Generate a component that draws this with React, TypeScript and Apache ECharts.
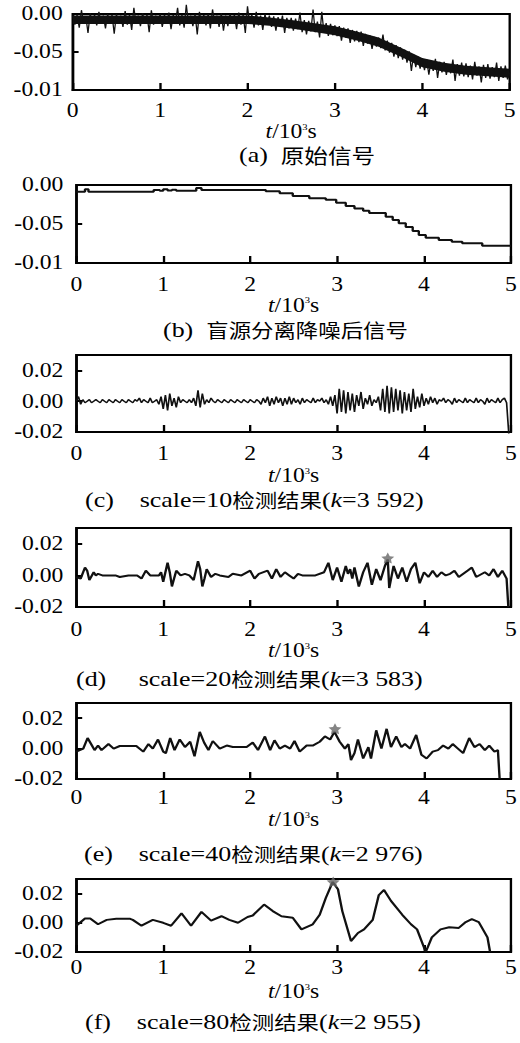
import React, { useEffect, useRef } from "react";
import * as echarts from "echarts";

// The reference figure is horizontally stretched; the chart is drawn narrower and stretched back.
const STRETCH = 1.18;
const CHART_W = 520 / STRETCH;
const CHART_H = 1043;

const FONT_SERIF = "'Liberation Serif', 'Times New Roman', serif";
const FONT_CJK = "'Noto Sans CJK SC', sans-serif";

// ---------- tick labels (values in units of 10^-3) ----------
const xTickValues = [0, 1, 2, 3, 4, 5];
const xTickLabels = ["0", "1", "2", "3", "4", "5"];
const yTicksAB = [-100, -50, 0];
const yLabelsAB = ["-0.01", "-0.05", "0.00"];
const yTicksCF = [-20, 0, 20];
const yLabelsCF = ["-0.02", "0.00", "0.02"];

// ---------- (a) original signal, sampled every 0.025 (10^3 s) ----------
const aStep = 0.025;
const aVals = [
  -2, -14, -1, -18, 5, -12, -3, -25, 1, -13,
  -1, -15, 3, -12, -2, -19, 0, -13, -1, -26,
  0, -12, -2, -17, 4, -14, -1, -21, 8, -13,
  -2, -16, 1, -12, -1, -24, 5, -14, -2, -13,
  0, -17, -1, -13, 2, -20, -1, -12, 8, -15,
  -1, -18, 12, -13, -2, -16, 0, -27, 3, -12,
  -1, -15, 0, -19, 6, -13, -2, -17, 1, -22,
  -2, -16, 0, -12, -1, -20, 2, -14, -1, -25,
  10, -13, -1, -18, 3, -15, -2, -21, 0, -14,
  -2, -17, -3, -22, -4, -16, -2, -25, -5, -19,
  -5, -22, -6, -20, 2, -24, -8, -27, -9, -23,
  6, -24, -10, -31, 3, -25, -12, -29, -13, -28,
  -15, -29, -16, -35, -18, -31, -19, -38, -21, -36,
  -22, -37, -23, -42, -26, -39, -28, -46, -30, -43,
  -31, -45, -27, -48, -35, -51, -38, -56, -41, -58,
  -44, -60, -47, -64, -49, -75, -53, -70, -56, -72,
  -58, -74, -60, -80, -62, -75, -59, -84, -63, -77,
  -63, -80, -66, -78, -60, -88, -66, -81, -64, -82,
  -65, -83, -68, -86, -63, -81, -69, -90, -67, -84,
  -66, -85, -70, -83, -64, -88, -69, -84, -68, -86,
  -77,
];
// dense core of the noisy band in (a): upper / lower edge
const aBandT = [0, 0.25, 0.5, 0.75, 1, 1.25, 1.5, 1.75, 2, 2.25, 2.5, 2.75, 3, 3.25, 3.5, 3.75, 4, 4.25, 4.5, 4.75, 5];
const aBandUpper = [-2, -2, -2, -2, -2, -2, -2, -2, -2, -4.5, -8, -12, -16, -23, -31, -44, -58, -64, -68, -70, -72];
const aBandLower = [-13, -13, -13, -13, -13, -13, -13, -13, -13, -15.5, -19, -23.5, -28, -35, -43, -56, -70, -76, -80, -82, -84];

// ---------- (b) denoised signal (staircase): [t, value] ----------
const bPts = [
  [0, -8.5], [0.1, -5.5], [0.14, -8.5], [0.89, -6.5], [0.96, -7.5], [1.0, -5.5],
  [1.05, -7], [1.1, -6], [1.15, -7.3], [1.38, -4], [1.44, -6.5], [2.18, -8],
  [2.34, -10.5], [2.49, -14], [2.68, -17], [2.87, -19], [2.99, -22.6], [3.1, -27],
  [3.2, -30], [3.3, -33], [3.37, -36], [3.56, -40.6], [3.64, -45], [3.71, -49],
  [3.79, -54], [3.87, -59], [3.94, -64], [4.02, -67.5], [4.17, -70.5], [4.32, -72.6],
  [4.44, -74.8], [4.67, -78], [5.0, -78],
];

// ---------- (c) scale=10, sampled every 0.025 ----------
const cStep = 0.025;
const cVals = [
  0, 3, -2, 1, -1, 0, 1, -1, 0, 1,
  0, -1, 1, 0, -1, 1, 0, -1, 1, 0,
  -1, 1, 0, -1, 1, 0, -1, 1, 0, 2,
  -1, 1, 0, -1, 2, -1, 0, 1, -2, 3,
  -5, 4, -6, 5, -3, 2, -4, 3, -1, 1,
  0, -1, 1, -1, 2, -3, 7, -4, 5, -2,
  1, -1, 2, 0, -1, 1, 0, -1, 1, 0,
  -1, 1, 0, -1, 1, 0, -1, 1, 0, -1,
  1, 0, -1, 1, 0, -2, 2, -1, 3, -3,
  2, -2, 3, -1, 2, -3, 2, -2, 3, -2,
  2, -1, 1, -2, 2, -1, 1, 0, -1, 2,
  -1, 1, 0, 2, -1, 1, -2, 3, -3, 4,
  -8, 8, -7, 7, -8, 6, -6, 5, -7, 4,
  -3, 6, -5, 2, -2, 4, -3, 1, -1, 3,
  -6, 8, -7, 10, -8, 9, -7, 8, -6, 7,
  -8, 6, -6, 5, -7, 8, -5, 3, -4, 5,
  -3, 2, -2, 3, -1, 2, -2, 1, 0, 2,
  -1, 1, 0, -2, 2, -1, 1, 0, -1, 2,
  -1, 1, 0, -1, 2, -1, 1, 0, -2, 2,
  -1, 1, 0, -1, 2, -1, 1, 2, -1, -21,
];

// ---------- (d) scale=20: [t, value] ----------
const dPts = [
  [0, -1], [0.05, -2], [0.1, 5], [0.125, 3], [0.15, -3], [0.2, 2], [0.225, 0], [0.25, 1],
  [0.3, 0], [0.45, 0], [0.5, -1], [0.6, 0], [0.7, 0], [0.75, -2], [0.8, 3], [0.85, 0],
  [0.95, 0], [0.975, 2], [1.0, -4], [1.05, 8], [1.075, 2], [1.1, -7], [1.125, -2], [1.15, 3],
  [1.2, 0], [1.25, 1], [1.3, 0], [1.35, -3], [1.4, 9], [1.425, 4], [1.45, -7], [1.475, -2],
  [1.5, 4], [1.55, -1], [1.6, 1], [1.65, 0], [1.75, -1], [1.8, 1], [1.9, 0], [2.0, 3],
  [2.05, -2], [2.1, 1], [2.2, 3], [2.25, -2], [2.3, 4], [2.35, -1], [2.4, 2], [2.45, 0],
  [2.5, -2], [2.55, 1], [2.6, 0], [2.75, 0], [2.85, 2], [2.9, 8], [2.95, -3], [3.0, 5],
  [3.05, -4], [3.1, 6], [3.125, 1], [3.15, 4], [3.175, -2], [3.2, 5], [3.25, -7], [3.3, 2],
  [3.35, 8], [3.4, -6], [3.45, 4], [3.5, -3], [3.55, 6], [3.583, 10], [3.6, -8], [3.65, 6],
  [3.7, -2], [3.75, 5], [3.8, -4], [3.85, 4], [3.9, 8], [3.95, -5], [4.0, 2], [4.05, -1],
  [4.1, 3], [4.15, -1], [4.2, 2], [4.25, 0], [4.3, 1], [4.35, 3], [4.4, -1], [4.5, 3],
  [4.55, 5], [4.6, -1], [4.7, 2], [4.75, 0], [4.8, 4], [4.85, -1], [4.9, 3], [4.95, -2],
  [4.97, -20],
];

// ---------- (e) scale=40: [t, value] ----------
const ePts = [
  [0, -2], [0.08, 0], [0.13, 7], [0.18, 2], [0.21, -1], [0.25, 2], [0.29, -1], [0.37, 3],
  [0.43, 0], [0.5, 1.7], [0.69, 1.7], [0.77, -2], [0.83, 3], [0.88, 0], [0.94, 6], [1.0, -2],
  [1.03, -3], [1.08, 7], [1.13, -1], [1.19, 6], [1.25, 1], [1.31, 4.5], [1.36, -5], [1.42, 11],
  [1.47, 4], [1.52, -1], [1.57, 5], [1.65, 0], [1.73, 2], [1.8, 1], [1.96, 1], [2.03, 4],
  [2.09, -1], [2.17, 8], [2.23, -1], [2.28, 5.5], [2.34, 0], [2.4, 2], [2.46, 0], [2.51, 5],
  [2.57, -2], [2.65, 2], [2.72, 2], [2.8, 4.5], [2.86, 8], [2.92, 6], [2.97, 11], [3.03, 4.5],
  [3.09, 0], [3.13, 3], [3.16, -7.5], [3.2, -3], [3.24, 6], [3.3, -6.5], [3.36, 1], [3.39, -6.5],
  [3.45, 12], [3.51, 0], [3.57, 13], [3.62, 1], [3.68, 8], [3.74, 1], [3.78, 3], [3.84, 0],
  [3.91, 9], [3.97, -4], [4.03, -6.5], [4.1, -2], [4.16, -1], [4.22, 2], [4.28, 0], [4.33, 3],
  [4.39, 0], [4.45, -3], [4.52, 7], [4.58, 1], [4.64, 3], [4.7, -1], [4.75, 2], [4.81, -2],
  [4.85, -1], [4.87, -20],
];

// ---------- (f) scale=80: [t, value] ----------
const fPts = [
  [0, -2], [0.1, 3], [0.16, 3], [0.25, -1], [0.35, 2], [0.46, 2.7], [0.62, 2.7], [0.65, 2],
  [0.75, -2], [0.88, 2], [1.0, 0], [1.09, -2], [1.21, 6.5], [1.32, -2], [1.44, 7.5], [1.55, 1.5],
  [1.67, 4.5], [1.76, 2], [1.86, 0], [1.97, 4], [2.03, 5], [2.16, 12.5], [2.26, 8], [2.36, 4.5],
  [2.49, 3.5], [2.59, -4.5], [2.72, -1], [2.8, 5.5], [2.87, 17], [2.95, 28], [3.01, 23], [3.06, 8],
  [3.16, -12.5], [3.24, -7], [3.31, -4.5], [3.41, 2], [3.48, 19], [3.54, 22.5], [3.62, 15], [3.75, 5.5],
  [3.85, -1], [3.92, -4.5], [4.02, -20], [4.09, -10], [4.19, -4.5], [4.29, -3], [4.4, -3.5], [4.48, 0.5],
  [4.55, 2.5], [4.63, 0.5], [4.73, -10], [4.76, -20],
];

// ---------- detected points (stars): t, value ----------
const starT = [3.583, 2.976, 2.955];
const starV = [11, 13, 28];

// ---------- captions ----------
const captionTexts = [
  "{n|(a)  }{c|原始信号}",
  "{n|(b)  }{c|盲源分离降噪后信号}",
  "{n|(c)    scale=10}{c|检测结果}{n|(}{i|k}{n|=3 592)}",
  "{n|(d)     scale=20}{c|检测结果}{n|(}{i|k}{n|=3 583)}",
  "{n|(e)    scale=40}{c|检测结果}{n|(}{i|k}{n|=2 976)}",
  "{n|(f)    scale=80}{c|检测结果}{n|(}{i|k}{n|=2 955)}",
];

const px = (x: number) => x / STRETCH;

const layout = [
  { left: 72.7, top: 14, width: 437, height: 76, yMin: -100, yMax: 0, yInt: 50, yt: yTicksAB, yl: yLabelsAB, lm: 11, ng: 28, ylm: 10, capX: 239, capY: 155, cjk: 20 },
  { left: 76.3, top: 185, width: 435.3, height: 78, yMin: -100, yMax: 0, yInt: 50, yt: yTicksAB, yl: yLabelsAB, lm: 11.5, ng: 25, ylm: 13, capX: 163, capY: 330, cjk: 19 },
  { left: 76.3, top: 355, width: 435.3, height: 77, yMin: -20, yMax: 30, yInt: 20, yt: yTicksCF, yl: yLabelsCF, lm: 11.5, ng: 34, ylm: 13, capX: 85, capY: 500, cjk: 19 },
  { left: 76.3, top: 528, width: 435.3, height: 79, yMin: -20, yMax: 30, yInt: 20, yt: yTicksCF, yl: yLabelsCF, lm: 13, ng: 33, ylm: 13, capX: 76, capY: 679, cjk: 19 },
  { left: 76.3, top: 703, width: 435.3, height: 76, yMin: -20, yMax: 30, yInt: 20, yt: yTicksCF, yl: yLabelsCF, lm: 8.5, ng: 31, ylm: 13, capX: 84, capY: 854, cjk: 19 },
  { left: 76.3, top: 879, width: 435.3, height: 73, yMin: -20, yMax: 30, yInt: 20, yt: yTicksCF, yl: yLabelsCF, lm: 6, ng: 30, ylm: 13, capX: 85, capY: 1022, cjk: 19 },
];

const STAR = "path://M0,-10 L2.9,-4 L9.5,-3.1 L4.7,1.5 L5.9,8.1 L0,5 L-5.9,8.1 L-4.7,1.5 L-9.5,-3.1 L-2.9,-4 Z";

function buildOption() {
  const labelFor = (ticks: number[], labels: string[]) => (v: number) => {
    const i = ticks.findIndex((t) => Math.abs(t - v) < 1e-6);
    return i >= 0 ? labels[i] : "";
  };
  const nameRich = {
    i: { fontFamily: FONT_SERIF, fontSize: 20, lineHeight: 20, fontStyle: "italic", color: "#000" },
    n: { fontFamily: FONT_SERIF, fontSize: 20, lineHeight: 20, color: "#000" },
    s: { fontFamily: FONT_SERIF, fontSize: 9, lineHeight: 10, color: "#000", verticalAlign: "top" },
  };
  const capRich = (cjk: number) => ({
    n: { fontFamily: FONT_SERIF, fontSize: 22, lineHeight: 20, fill: "#000" },
    i: { fontFamily: FONT_SERIF, fontSize: 22, lineHeight: 20, fontStyle: "italic", fill: "#000" },
    c: { fontFamily: FONT_CJK, fontSize: cjk, lineHeight: 20, fill: "#000" },
  });

  const grid = layout.map((l) => ({
    left: px(l.left), top: l.top, width: px(l.width), height: l.height,
    show: true, borderColor: "#000", borderWidth: 2, backgroundColor: "transparent",
  }));

  const xAxis = layout.map((l, i) => ({
    gridIndex: i, type: "value", min: 0, max: 5, interval: 1,
    axisLine: { show: true, onZero: false, lineStyle: { color: "#000", width: 2 } },
    axisTick: { show: true, inside: true, length: 7, lineStyle: { color: "#000", width: 2 } },
    splitLine: { show: false },
    axisLabel: {
      margin: l.lm, fontFamily: FONT_SERIF, fontSize: 20, color: "#000",
      formatter: labelFor(xTickValues, xTickLabels),
    },
    name: "{i|t}{n|/10}{s|3}{n|s}",
    nameLocation: "middle",
    nameGap: l.ng,
    nameTextStyle: { rich: nameRich, lineHeight: 20 },
  }));

  const yAxis = layout.map((l, i) => ({
    gridIndex: i, type: "value", min: l.yMin, max: l.yMax, interval: l.yInt,
    axisLine: { show: true, onZero: false, lineStyle: { color: "#000", width: 2 } },
    axisTick: { show: true, inside: true, length: 5, lineStyle: { color: "#000", width: 2 } },
    splitLine: { show: false },
    axisLabel: {
      margin: px(l.ylm), fontFamily: FONT_SERIF, fontSize: 20, color: "#000",
      formatter: labelFor(l.yt, l.yl),
    },
  }));

  const lineBase = { type: "line", showSymbol: false, symbol: "none", animation: false, silent: true };
  const aPts = aVals.map((v, i) => [i * aStep, v]);
  const cPts = cVals.map((v, i) => [i * cStep, v]);

  const series: any[] = [
    {
      type: "custom", xAxisIndex: 0, yAxisIndex: 0, data: [[0, 0]], clip: false, silent: true, z: 2,
      renderItem: (_p: any, api: any) => {
        const pts: number[][] = [];
        aBandT.forEach((t, i) => pts.push(api.coord([t, aBandUpper[i]])));
        for (let i = aBandT.length - 1; i >= 0; i--) pts.push(api.coord([aBandT[i], aBandLower[i]]));
        return { type: "polygon", shape: { points: pts }, style: { fill: "#111" } };
      },
    },
    { ...lineBase, xAxisIndex: 0, yAxisIndex: 0, data: aPts, clip: false, lineStyle: { color: "#111", width: 1.1 } },
    { ...lineBase, xAxisIndex: 1, yAxisIndex: 1, data: bPts, step: "end", lineStyle: { color: "#111", width: 2 } },
    { ...lineBase, xAxisIndex: 2, yAxisIndex: 2, data: cPts, clip: false, lineStyle: { color: "#111", width: 1.4 } },
    { ...lineBase, xAxisIndex: 3, yAxisIndex: 3, data: dPts, clip: false, lineStyle: { color: "#111", width: 2 } },
    { ...lineBase, xAxisIndex: 4, yAxisIndex: 4, data: ePts, clip: false, lineStyle: { color: "#111", width: 2 } },
    { ...lineBase, xAxisIndex: 5, yAxisIndex: 5, data: fPts, clip: false, lineStyle: { color: "#111", width: 2 } },
  ];
  starT.forEach((t, k) => {
    series.push({
      type: "scatter", xAxisIndex: 3 + k, yAxisIndex: 3 + k, data: [[t, starV[k]]],
      symbol: STAR, symbolSize: 11, itemStyle: { color: "#666" }, clip: false, silent: true, z: 5,
    });
  });

  const graphic = layout.map((l, i) => ({
    type: "text", x: px(l.capX), y: l.capY, silent: true,
    style: { text: captionTexts[i], rich: capRich(l.cjk), verticalAlign: "middle", align: "left", fill: "#000" },
  }));

  return { animation: false, grid, xAxis, yAxis, series, graphic };
}

export default function App() {
  const ref = useRef<HTMLDivElement>(null);
  useEffect(() => {
    if (!ref.current) return;
    const chart = echarts.init(ref.current, undefined, { renderer: "svg" });
    chart.setOption(buildOption() as any);
    return () => chart.dispose();
  }, []);
  return (
    <div
      ref={ref}
      style={{
        position: "absolute", left: 0, top: 0, width: CHART_W, height: CHART_H,
        transform: `scaleX(${STRETCH})`, transformOrigin: "0 0", background: "#fff",
      }}
    />
  );
}
